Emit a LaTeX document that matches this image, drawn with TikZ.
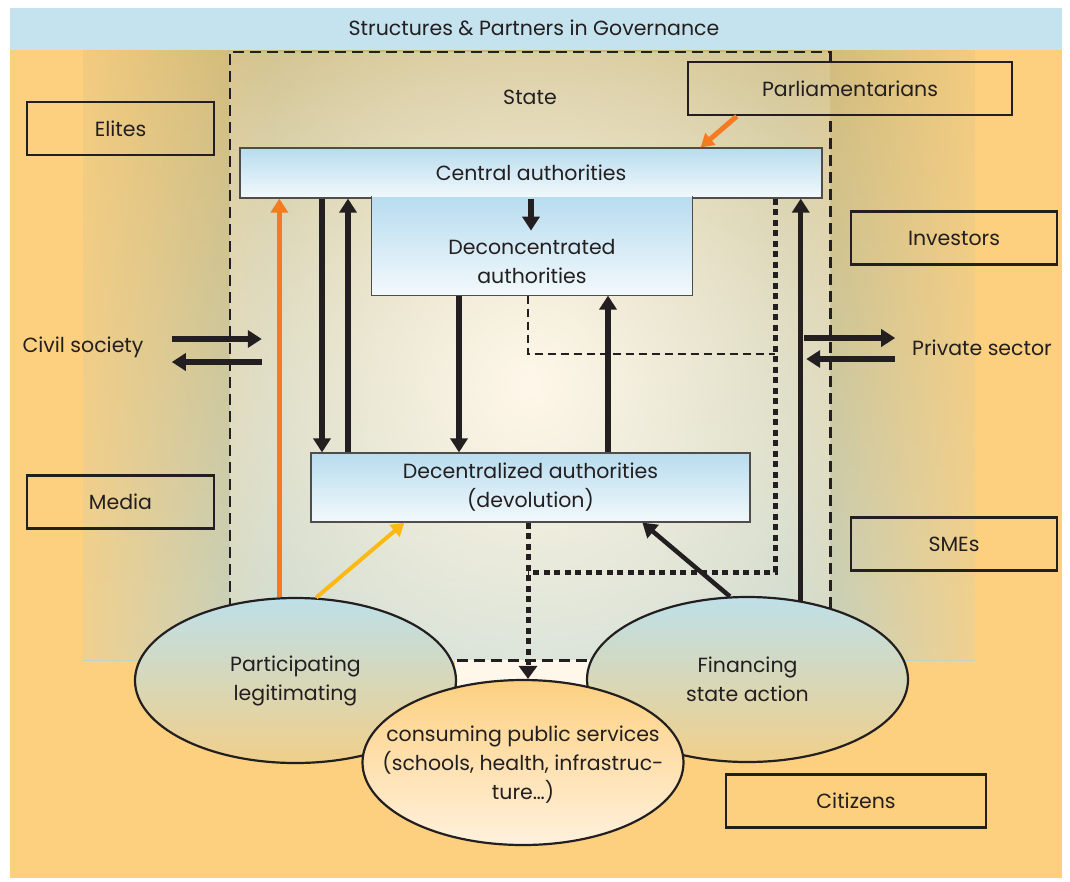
\documentclass[tikz,border=0pt]{standalone}
\usepackage{fontspec}
\setmainfont{Poppins}
\usetikzlibrary{arrows.meta,fadings,shapes.geometric}
\definecolor{bgorange}{HTML}{FDD080}
\definecolor{bannerblue}{HTML}{C5E3EE}
\definecolor{statetan}{HTML}{C9B87C}
\definecolor{stateblue}{HTML}{BCD3CC}
\definecolor{glowcream}{HTML}{FFF8EA}
\definecolor{boxtop}{HTML}{B8DCEF}
\definecolor{boxbottom}{HTML}{F2F9FC}
\definecolor{ink}{HTML}{231F20}
\definecolor{arroworange}{HTML}{F47B20}
\definecolor{arrowyellow}{HTML}{FDB913}
\definecolor{ellblue}{HTML}{BEE0E8}
\definecolor{elltan}{HTML}{F0CF8A}
\definecolor{ellcream}{HTML}{FFF1DD}
\tikzfading[name=fadeleft, left color=transparent!0, right color=transparent!100]
\tikzfading[name=faderight, left color=transparent!100, right color=transparent!0]
\tikzfading[name=glowfade, inner color=transparent!0, outer color=transparent!100]
\begin{document}
\begin{tikzpicture}[x=1pt,y=-1pt,
  every node/.style={text=ink, font=\fontsize{20.5}{29}\selectfont},
  sidebox/.style={draw=ink, line width=2.4pt, minimum height=53pt},
  authbox/.style={draw=ink!80, line width=1.2pt, top color=boxtop, bottom color=boxbottom, align=center, inner sep=0pt},
  roleell/.style={ellipse, draw=ink, line width=2.2pt, minimum width=321pt, minimum height=165pt, inner sep=0pt, align=center, top color=ellblue, bottom color=elltan},
  bigarrow/.style={draw=ink, line width=5.5pt, -{Triangle[width=17pt,length=14pt]}},
  statedash/.style={draw=ink, line width=2.6pt, dash pattern=on 11pt off 6pt},
  thindash/.style={draw=ink, line width=2.4pt, dash pattern=on 8pt off 5pt},
  dotline/.style={draw=ink, line width=5pt, dash pattern=on 6pt off 4.5pt}]
\useasboundingbox (0,0) rectangle (1070,881);
\fill[bgorange] (10,50) rectangle (1062,878);
\fill[bannerblue] (10,8) rectangle (1062,50);
\shade[top color=statetan, bottom color=stateblue] (83,50) rectangle (975,660);
\fill[bgorange, path fading=fadeleft] (36,50) rectangle (275,660);
\fill[bgorange, path fading=faderight] (785,50) rectangle (1020,660);
\fill[glowcream] (455,660) rectangle (600,700);
\begin{scope}
\clip (230,52) rectangle (830,660);
\fill[glowcream, path fading=glowfade] (20,-150) rectangle (1040,920);
\end{scope}

\node (title) at (534,28) {Structures \& Partners in Governance};
\node[minimum width=600pt, minimum height=608pt, inner sep=0pt] (state) at (530,356) {};
\node (statelabel) at ([yshift=-46pt]state.north) {State};
\node[sidebox, minimum width=324pt] (parl) at (850,88.5) {Parliamentarians};
\draw[statedash] (parl.north -| state.east) -- (state.north east) -- (state.north west) -- (state.south west) -- (state.south east) -- (parl.south -| state.east);

\node[authbox, minimum width=582pt, minimum height=50pt] (central) at (531,173) {Central authorities};
\node[authbox, draw=none, minimum width=320pt, minimum height=98pt] (deconc) at (532,246) {};
\draw[draw=ink!80, line width=1.2pt] (deconc.north west) -- (deconc.south west) -- (deconc.south east) -- (deconc.north east);
\node[align=center] (deconclabel) at ([yshift=-16pt]deconc.center) {Deconcentrated\\authorities};
\node[authbox, minimum width=439pt, minimum height=69pt] (decentral) at (530.5,487.5) {Decentralized authorities\\(devolution)};

\node[sidebox, minimum width=187pt] (elites) at (120.5,128.5) {Elites};
\node[sidebox, minimum width=187pt] (media) at (120.5,502) {Media};
\node[sidebox, minimum width=206pt] (investors) at (954,238) {Investors};
\node[sidebox, minimum width=206pt] (smes) at (954,544) {SMEs};
\node[sidebox, minimum width=260pt] (citizens) at (856,801) {Citizens};
\node (civil) at (83,347) {Civil society};
\node (priv) at (982,348) {Private sector};

\node[roleell] (part) at (295.5,680.5) {Participating\\legitimating};
\node[roleell] (fin) at (747.5,679.5) {Financing\\state action};
\node[roleell, top color=bgorange, bottom color=ellcream] (consume) at (523,762.5) {};
\node[align=center] (consumelabel) at ([yshift=-2pt]consume.center) {consuming public services\\(schools, health, infrastruc-\\ture\ldots)};

\coordinate (xa) at (322,0);
\coordinate (xb) at (348,0);
\coordinate (xc) at (459,0);
\coordinate (xd) at (608,0);
\coordinate (dashx) at (528,0);
\coordinate (dashcorner) at (775,354);
\coordinate (dotcorner) at (775,572);

\draw[bigarrow] (central.south) -- ([yshift=-32pt]central.south);
\draw[bigarrow] (xa |- central.south) -- (xa |- decentral.north);
\draw[bigarrow] (xb |- decentral.north) -- (xb |- central.south);
\draw[bigarrow] (xc |- deconc.south) -- (xc |- decentral.north);
\draw[bigarrow] (xd |- decentral.north) -- (xd |- deconc.south);
\draw[bigarrow] (fin.56) -- (fin.56 |- central.south);
\draw[bigarrow, line width=4.5pt] (fin.102) -- ([xshift=332pt]decentral.south west);
\draw[bigarrow, draw=arroworange, line width=4.5pt] (part.101) -- (part.101 |- central.south);
\draw[bigarrow, draw=arrowyellow, line width=4pt, -{Triangle[width=15pt,length=13pt]}] (part.76) -- ([xshift=94pt]decentral.south west);
\draw[bigarrow, draw=arroworange, line width=5pt, -{Triangle[width=15pt,length=13pt]}] ([xshift=50pt]parl.south west) -- ([xshift=-122pt]central.north east);

\draw[bigarrow, line width=6pt] ([xshift=-58pt,yshift=17pt]state.west) -- ++(90,0);
\draw[bigarrow, line width=6pt] ([xshift=32pt,yshift=-6pt]state.west) -- ++(-90,0);
\draw[bigarrow, line width=6pt] ([xshift=-26pt,yshift=18pt]state.east) -- ++(91,0);
\draw[bigarrow, line width=6pt] ([xshift=65pt,yshift=-3pt]state.east) -- ++(-89,0);

\draw[thindash] (dashx |- deconc.south) |- (dashcorner);
\draw[dotline] (dotcorner |- central.south) -- (dotcorner) -- (dotcorner -| dashx);
\draw[dotline, -{Triangle[width=18pt,length=13pt]}] (dashx |- decentral.south) -- (dashx |- consume.north);
\end{tikzpicture}
\end{document}
